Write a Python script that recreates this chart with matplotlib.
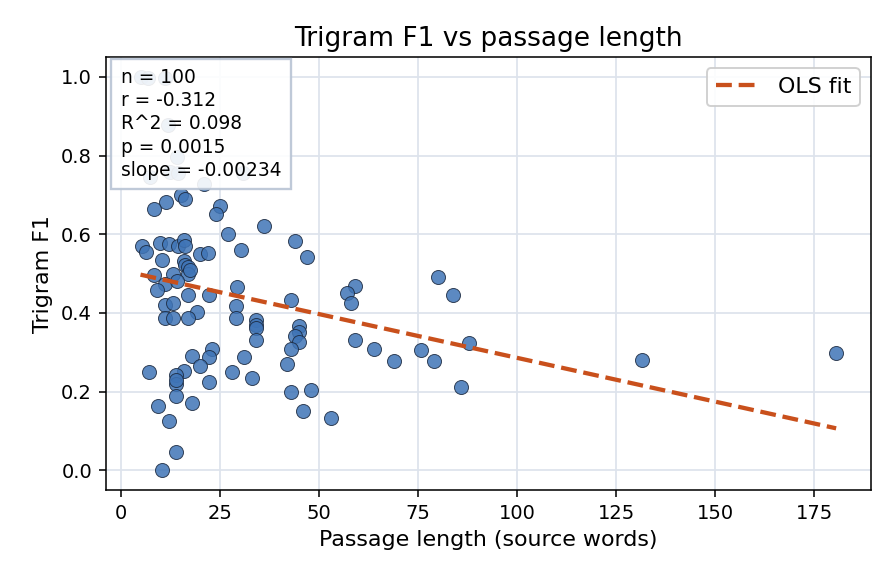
import numpy as np
import matplotlib
matplotlib.use("Agg")
import matplotlib.pyplot as plt

# Passage length (source words) and Trigram F1 values
passage_len = [
    4.9, 6.9, 11.2, 11.9, 14.2, 12.4, 7.4, 14.4, 30.8, 21.0,
    15.1, 16.2, 11.3, 8.2, 25.0, 24.0, 36.1, 27.0, 30.2, 5.2,
    6.3, 9.9, 12.2, 14.3, 16.0, 16.2, 20.0, 22.0, 10.2, 16.0,
    16.2, 17.0, 17.0, 8.2, 13.2, 11.2, 14.1, 9.1, 29.2, 17.0,
    22.1, 11.2, 13.2, 29.0, 19.1, 11.2, 13.2, 17.0, 29.0, 22.9,
    22.1, 17.9, 20.0, 16.0, 7.1, 13.9, 13.9, 22.1, 13.9, 9.2,
    18.0, 12.2, 13.9, 10.2, 28.1, 31.1, 33.0, 34.1, 34.1, 34.1,
    34.1, 42.9, 44.9, 44.9, 43.9, 44.9, 42.9, 42.0, 42.9, 47.9,
    46.0, 53.0, 43.9, 47.0, 80.0, 83.8, 59.0, 57.1, 58.0, 59.0,
    63.8, 68.8, 75.8, 79.0, 87.8, 85.7, 131.6, 180.5, 17.5, 13.9,
]
trigram_f1 = [
    1.000, 0.996, 0.996, 0.879, 0.797, 0.759, 0.746, 0.756, 0.756, 0.729,
    0.701, 0.690, 0.683, 0.663, 0.673, 0.652, 0.620, 0.600, 0.561, 0.569,
    0.554, 0.578, 0.576, 0.569, 0.586, 0.569, 0.551, 0.553, 0.535, 0.531,
    0.523, 0.518, 0.500, 0.497, 0.500, 0.474, 0.480, 0.459, 0.467, 0.445,
    0.445, 0.419, 0.426, 0.417, 0.403, 0.386, 0.387, 0.386, 0.386, 0.309,
    0.288, 0.290, 0.266, 0.253, 0.249, 0.241, 0.220, 0.225, 0.190, 0.164,
    0.171, 0.126, 0.047, 0.000, 0.249, 0.288, 0.235, 0.383, 0.370, 0.363,
    0.330, 0.434, 0.368, 0.351, 0.341, 0.325, 0.309, 0.271, 0.198, 0.203,
    0.152, 0.133, 0.584, 0.542, 0.491, 0.446, 0.468, 0.451, 0.425, 0.330,
    0.309, 0.278, 0.307, 0.278, 0.324, 0.212, 0.281, 0.298, 0.510, 0.230,
]
stats_lines = ["n = 100", "r = -0.312", "R^2 = 0.098", "p = 0.0015", "slope = -0.00234"]

x = np.array(passage_len)
y = np.array(trigram_f1)

fig = plt.figure(figsize=(6.4, 584 / 140), dpi=140)
ax = fig.add_axes([0.118, 0.161, 0.854, 0.741])

ax.grid(True, color="#dde3ec", linewidth=0.9, zorder=0)
ax.set_axisbelow(True)

ax.scatter(x, y, s=52, color="#3f74b6", alpha=0.85, edgecolor="#1c2a40",
           linewidth=0.5, zorder=3)

slope, intercept = np.polyfit(x, y, 1)
xs = np.linspace(x.min(), x.max(), 100)
ax.plot(xs, intercept + slope * xs, linestyle="--", color="#c9501c",
        linewidth=2.2, label="OLS fit", zorder=4)

ax.set_title("Trigram F1 vs passage length", fontsize=13.6)
ax.set_xlabel("Passage length (source words)", fontsize=11.4)
ax.set_ylabel("Trigram F1", fontsize=11.4)
ax.tick_params(labelsize=10)

ax.text(0.0196, 0.975, "\n".join(stats_lines), transform=ax.transAxes,
        va="top", ha="left", fontsize=9.6, zorder=6, linespacing=1.28,
        bbox=dict(boxstyle="square,pad=0.5", facecolor="white", alpha=0.9,
                  edgecolor="#b8c4d4", linewidth=1.2))

ax.legend(loc="upper right", fontsize=11.4, framealpha=0.9)

fig.savefig("out.png", dpi=140)
